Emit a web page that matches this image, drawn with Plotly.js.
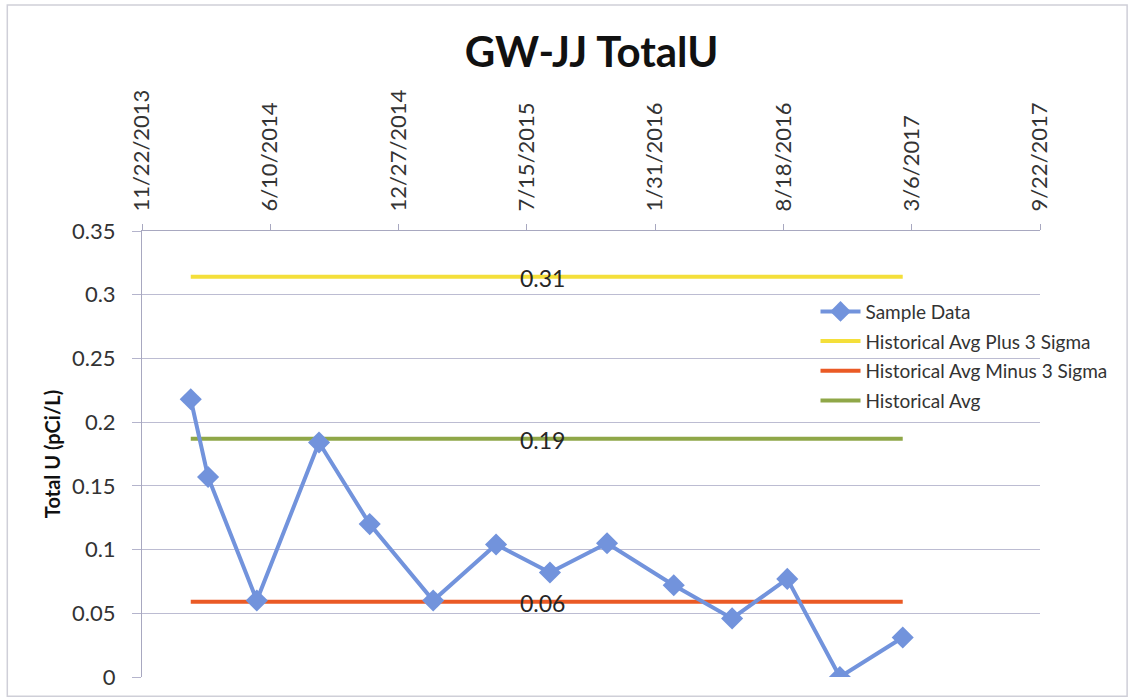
<!DOCTYPE html>
<html>
<head>
<meta charset="utf-8">
<script src="https://cdn.plot.ly/plotly-3.0.1.min.js"></script>
<style>html,body{margin:0;padding:0;background:#fff;}#chart{width:1129px;height:698px;}</style>
</head>
<body>
<div id="chart"></div>
<script>
// ---- data ----
const sampleDates = ['2014-02-06','2014-03-05','2014-05-20','2014-08-25','2014-11-12','2015-02-19','2015-05-28','2015-08-20','2015-11-17','2016-02-29','2016-05-30','2016-08-24','2016-11-14','2017-02-20'];
const sampleValues = [0.218,0.157,0.060,0.184,0.120,0.060,0.104,0.082,0.105,0.072,0.046,0.077,0.000,0.031];
const avgPlus3Sigma = 0.314;
const avgMinus3Sigma = 0.059;
const historicalAvg = 0.187;
const limitLabels = ['0.31','0.06','0.19'];
const tickDates = ['2013-11-22','2014-06-10','2014-12-27','2015-07-15','2016-01-31','2016-08-18','2017-03-06','2017-09-22'];
const tickLabels = ['11/22/2013','6/10/2014','12/27/2014','7/15/2015','1/31/2016','8/18/2016','3/6/2017','9/22/2017'];
const yTickValues = [0,0.05,0.1,0.15,0.2,0.25,0.3,0.35];
const yTickLabels = ['0','0.05','0.1','0.15','0.2','0.25','0.3','0.35'];
const seriesNames = ['Sample Data','Historical Avg Plus 3 Sigma','Historical Avg Minus 3 Sigma','Historical Avg'];

const first = sampleDates[0], last = sampleDates[sampleDates.length-1];
const labelX = '2015-08-09';
const font = 'Lato, "Open Sans", sans-serif';

const sample = {x: sampleDates, y: sampleValues, name: seriesNames[0], mode: 'lines+markers', type: 'scatter',
   legendgroup: 'a', legendrank: 1,
   line: {color: '#7293dc', width: 4}, marker: {symbol: 'diamond', size: 17, color: '#7293dc'}};
const plus = {x: [first, last], y: [avgPlus3Sigma, avgPlus3Sigma], name: seriesNames[1], mode: 'lines', type: 'scatter',
   legendgroup: 'b', legendrank: 2, line: {color: '#f4df3a', width: 4}};
const minus = {x: [first, last], y: [avgMinus3Sigma, avgMinus3Sigma], name: seriesNames[2], mode: 'lines', type: 'scatter',
   legendgroup: 'c', legendrank: 3, line: {color: '#ea5a25', width: 4}};
const avg = {x: [first, last], y: [historicalAvg, historicalAvg], name: seriesNames[3], mode: 'lines', type: 'scatter',
   legendgroup: 'd', legendrank: 4, line: {color: '#8fa748', width: 4}};

const annotations = [avgPlus3Sigma, avgMinus3Sigma, historicalAvg].map((v,i)=>({
  x: labelX, y: v, xref: 'x', yref: 'y', text: limitLabels[i], showarrow: false,
  font: {family: font, size: 23, color: '#262626'}, yshift: -1
}));

const layout = {
  width: 1129, height: 698,
  margin: {l: 142, r: 89, t: 231, b: 21},
  paper_bgcolor: '#ffffff', plot_bgcolor: '#ffffff',
  font: {family: font, color: '#404040'},
  title: {text: '<b>GW-JJ TotalU</b>', x: 0.524, xanchor: 'center', y: 0.925, yanchor: 'middle',
          font: {family: font, size: 42, color: '#111111'}},
  xaxis: {type: 'date', side: 'top', range: [tickDates[0], tickDates[tickDates.length-1]],
          tickmode: 'array', tickvals: tickDates, ticktext: tickLabels, tickangle: -90,
          tickfont: {family: font, size: 22, color: '#333333'}, ticklabelstandoff: 8,
          ticks: 'outside', ticklen: 6, tickcolor: '#a8a8c0',
          showgrid: false, showline: true, linecolor: '#a8a8c0', linewidth: 1, zeroline: false},
  yaxis: {range: [0, 0.35], tickmode: 'array', tickvals: yTickValues, ticktext: yTickLabels,
          tickfont: {family: font, size: 22, color: '#333333'}, ticklabelstandoff: 12,
          ticks: 'outside', ticklen: 9, tickcolor: '#b4b4cc',
          showgrid: true, gridcolor: '#bcbcd2', gridwidth: 1,
          showline: true, linecolor: '#a8a8c0', linewidth: 1, zeroline: false,
          title: {text: '<b>Total U (pCi/L)</b>', font: {family: font, size: 20, color: '#111111'}, standoff: 6}},
  legend: {x: 0.75, y: 0.862, xanchor: 'left', yanchor: 'top', bgcolor: 'rgba(0,0,0,0)',
           font: {family: font, size: 19, color: '#333333'}, tracegroupgap: 2, itemwidth: 40},
  annotations: annotations,
  shapes: [{type: 'rect', xref: 'paper', yref: 'paper', x0: -0.150, x1: 1.097, y0: -0.043, y1: 1.507,
            line: {color: '#cfcfd8', width: 1.5}, fillcolor: 'rgba(0,0,0,0)', layer: 'below'}],
  showlegend: true
};

Plotly.newPlot('chart', [plus, minus, avg, sample], layout, {displayModeBar: false, staticPlot: true});
</script>
</body>
</html>
